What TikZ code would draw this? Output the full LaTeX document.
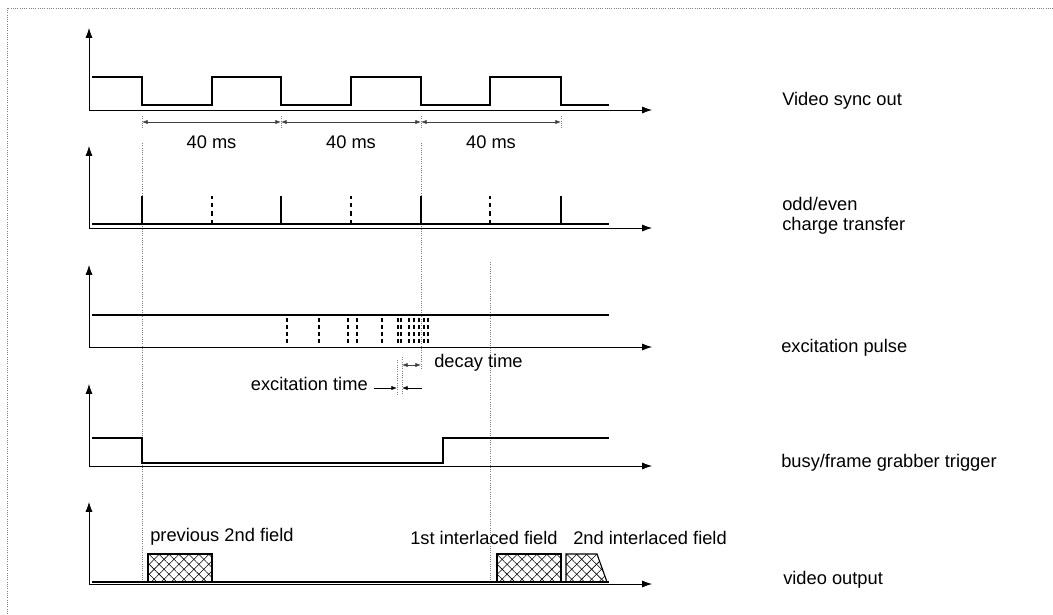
\documentclass[tikz,border=0pt]{standalone}
\usepackage{fontspec}
\setmainfont{Liberation Sans}
\usetikzlibrary{arrows.meta,patterns.meta}

\begin{document}
\begin{tikzpicture}[x=0.025cm,y=-0.025cm,
    sig/.style={line width=1.5pt},
    axis/.style={line width=0.5pt,-{Latex[length=7pt,width=5pt]}},
    guide/.style={gray,densely dotted,line width=0.6pt},
    dim/.style={line width=0.5pt,gray!50!black,{Latex[length=4pt,width=3pt]}-{Latex[length=4pt,width=3pt]}},
    lbl/.style={font=\fontsize{13}{14.5}\selectfont,inner sep=0pt},
    hatch/.style={draw,line width=0.8pt,
      preaction={pattern={Lines[angle=45,distance=5pt,line width=0.4pt]}},
      pattern={Lines[angle=-45,distance=5pt,line width=0.4pt]}}]
  \useasboundingbox (0,0) rectangle (1053,614);
  \draw[guide] (7,614) -- (7,8) -- (1053,8);
  % axes
  \foreach \b in {110,228,347,466,584} {
    \draw[axis] (89,\b) -- (89,\b-82); \draw[axis] (89,\b) -- (652,\b);}
  % guide lines
  \draw[guide] (142,143) -- (142,583); \draw[guide] (421,143) -- (421,370);
  \draw[guide] (490,262) -- (490,583);
  % video sync
  \draw[sig] (92,77) -- (142,77) -- (142,105) -- (212,105) -- (212,77)
    -- (281,77) -- (281,105) -- (351,105) -- (351,77) -- (421,77)
    -- (421,105) -- (490,105) -- (490,77) -- (561,77) -- (561,105) -- (609,105);
  \foreach \a/\b in {142/281,281/421,421/561} {
    \draw[guide] (\a,116) -- (\a,128); \draw[guide] (\b,116) -- (\b,128);
    \draw[dim] (\a,122) -- (\b,122);
    \node[lbl] (t\a) at ({(\a+\b)/2},142) {40 ms};}
  % charge transfer
  \draw[sig] (92,224) -- (609,224);
  \foreach \x in {142,281,421,561} \draw[line width=1.6pt] (\x,224) -- (\x,196);
  \foreach \x in {212,351,490} \draw[line width=1.4pt,dashed] (\x,224) -- (\x,196);
  % excitation
  \draw[line width=1.1pt] (92,315) -- (609,315);
  \foreach \x in {287,319,348,357,382,398,401,409,414,419,424,428}
    \draw[line width=1pt,densely dashed] (\x,318) -- (\x,343);
  \draw[guide] (402,357) -- (402,395); \draw[guide] (397,360) -- (397,395);
  \draw[dim] (402,365) -- (421,365);
  \node[lbl,anchor=west] (dec) at (434,363) {decay time};
  \draw[line width=0.5pt,-{Latex[length=4pt,width=3pt]}] (374,388) -- (397,388);
  \draw[line width=0.5pt,-{Latex[length=4pt,width=3pt]}] (422,388) -- (402,388);
  \node[lbl,anchor=east] (exct) at (368,384) {excitation time};
  % busy
  \draw[sig] (92,438) -- (142,438) -- (142,463) -- (443,463) -- (443,438) -- (609,438);
  % video output
  \draw[sig] (92,582) -- (609,582);
  \draw[hatch] (148,554) rectangle (212,582);
  \draw[hatch] (497,554) rectangle (561,582);
  \draw[hatch] (566,582) -- (566,554) -- (597,554) -- (607,582) -- cycle;
  \node[lbl,anchor=west] (prev) at (150,537) {previous 2nd field};
  \node[lbl,anchor=west] (first) at (410,538) {1st interlaced field};
  \node[lbl,anchor=west] (second) at (573,538) {2nd interlaced field};
  % signal names
  \node[lbl,anchor=west] (sync) at (782,101) {Video sync out};
  \node[lbl,anchor=west,align=left] (ccd) at (782,216) {odd/even\\charge transfer};
  \node[lbl,anchor=west] (exc) at (781,348) {excitation pulse};
  \node[lbl,anchor=west] (busy) at (781,463) {busy/frame grabber trigger};
  \node[lbl,anchor=west] (vout) at (783,580) {video output};
\end{tikzpicture}
\end{document}
